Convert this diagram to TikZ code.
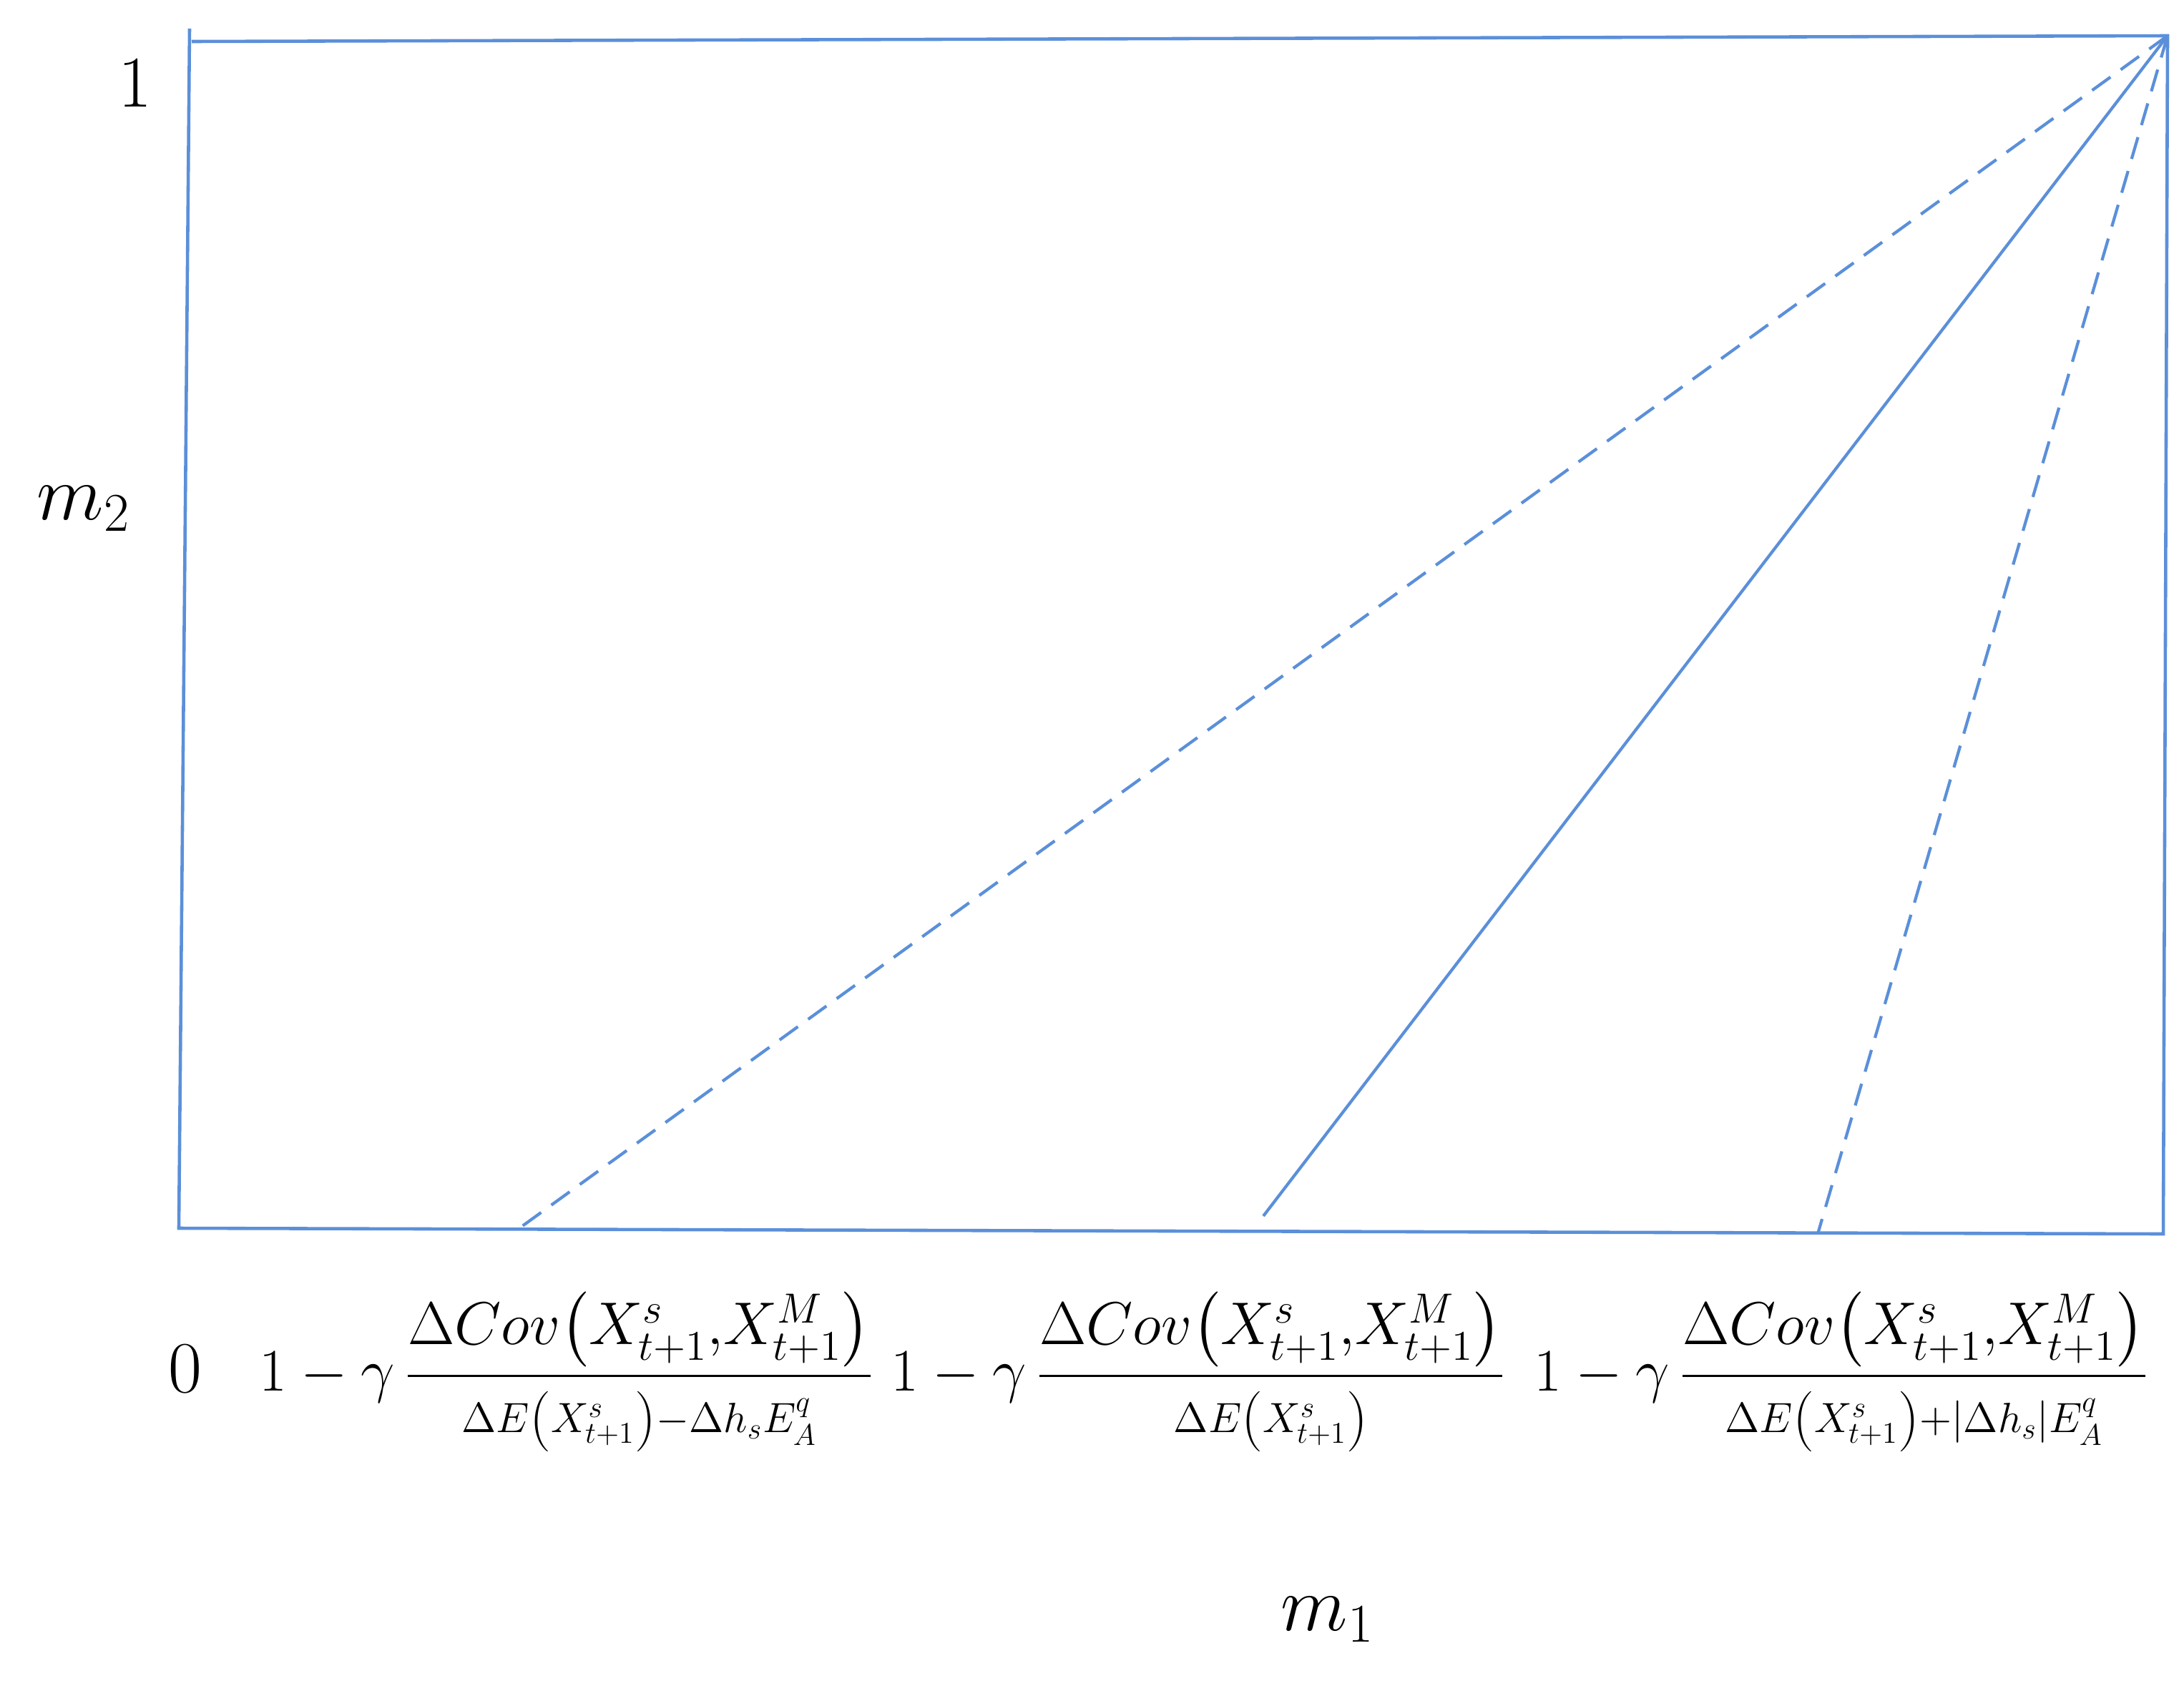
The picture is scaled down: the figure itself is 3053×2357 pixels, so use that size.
\RequirePackage{fix-cm}
\documentclass[tikz,border=0pt]{standalone}
\usepackage{amsmath}
\definecolor{lineblue}{RGB}{91,143,217}
\tikzset{
  frame/.style={draw=lineblue, line width=1.3pt},
  solidray/.style={draw=lineblue, line width=1.2pt},
  dashray/.style={draw=lineblue, line width=1.2pt, dash pattern=on 9pt off 5pt},
  biglabel/.style={inner sep=0pt, font=\fontsize{29}{34}\selectfont},
  axislabel/.style={inner sep=0pt, font=\fontsize{31}{36}\selectfont},
  formula/.style={inner sep=0pt, font=\fontsize{24}{28}\selectfont}
}
\newcommand{\covnum}{\Delta Cov{\left(X^{s}_{t+1}{,}X^{M}_{t+1}\right)}}
\newcommand{\denE}{\Delta E{\left(X^{s}_{t+1}\vphantom{X^{s}_{t+1}}\right)}}
\begin{document}
\begin{tikzpicture}[x=0.01cm,y=-0.01cm]
\useasboundingbox (0,0) rectangle (3053,2357);
% corners
\coordinate (LT) at (265,40);
\coordinate (TT) at (268,58);
\coordinate (TR) at (3030,50);
\coordinate (BL) at (250,1717);
\coordinate (BR) at (3024,1725);
\coordinate (E1) at (726,1717);
\coordinate (E2) at (1766,1700);
\coordinate (E3) at (2541,1725);
% frame
\draw[frame] (LT) -- (BL) -- (BR) -- (TR) -- (TT);
% rays
\draw[dashray] (TR) -- (E1);
\draw[solidray] (TR) -- (E2);
\draw[dashray] (TR) -- (E3);
% labels
\node[biglabel] (one) at (189,117) {$1$};
\node[axislabel] (mtwo) at (117,711) {$m_2$};
\node[biglabel] (zero) at (259,1914) {$0$};
\node[axislabel] (mone) at (1856,2264) {$m_1$};
\node[formula] (f1) at (792,1918) {$1-\gamma\,\dfrac{\covnum}{\scriptstyle\denE-\Delta h_{s}E^{q}_{A}}$};
\node[formula] (f2) at (1675,1918) {$1-\gamma\,\dfrac{\covnum}{\scriptstyle\denE}$};
\node[formula] (f3) at (2574,1918) {$1-\gamma\,\dfrac{\covnum}{\scriptstyle\denE+\left|\Delta h_{s}\right|E^{q}_{A}}$};
\end{tikzpicture}
\end{document}
